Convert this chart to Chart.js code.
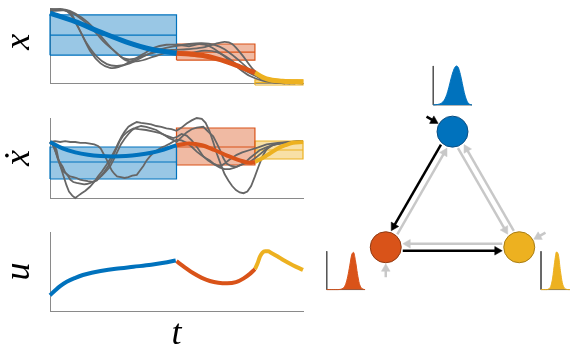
<!DOCTYPE html>
<html>
<head>
<meta charset="utf-8">
<script src="https://cdn.jsdelivr.net/npm/chart.js@4/dist/chart.umd.min.js"></script>
<style>
  html, body { margin: 0; padding: 0; background: #fff; width: 570px; height: 345px; overflow: hidden; position: relative; }
  canvas { position: absolute; }
</style>
</head>
<body>
<canvas id="panelX" width="310" height="92" style="left:0px;top:0px"></canvas>
<canvas id="panelV" width="310" height="105" style="left:0px;top:100px"></canvas>
<canvas id="panelU" width="310" height="144" style="left:0px;top:210px"></canvas>
<canvas id="network" width="267" height="267" style="left:319px;top:47px"></canvas>
<script>
// ---------- phase boundaries on the normalised time axis ----------
const phaseStart = [0, 0.5, 0.81];
const phaseEnd   = [0.5, 0.81, 1];

// ---------- position x: phase envelopes (low / mean / high) ----------
const xBoxLo  = [0.38, 0.315, -0.02];
const xBoxMid = [0.65, 0.42, 0.015];
const xBoxHi  = [0.92, 0.53, 0.05];

// position x: mean trajectory per phase
const xMeanA = [[0,0.945],[0.1,0.83],[0.2,0.69],[0.3,0.56],[0.4,0.46],[0.5,0.405]];
const xMeanB = [[0.5,0.405],[0.55,0.395],[0.605,0.375],[0.65,0.34],[0.7,0.29],[0.75,0.225],[0.81,0.145]];
const xMeanC = [[0.81,0.145],[0.84,0.085],[0.87,0.05],[0.92,0.03],[1,0.02]];

// position x: demonstrations
const xDemo1 = [[0,1.0],[0.05,0.99],[0.08,0.93],[0.11,0.76],[0.145,0.54],[0.185,0.36],[0.225,0.26],[0.265,0.235],[0.315,0.27],[0.38,0.38],[0.435,0.46],[0.49,0.5],[0.55,0.53],[0.6,0.54],[0.65,0.52],[0.69,0.46],[0.74,0.33],[0.79,0.18],[0.83,0.07],[0.88,0.02],[0.93,0.0]];
const xDemo2 = [[0,0.99],[0.04,1.0],[0.08,0.95],[0.12,0.7],[0.16,0.43],[0.2,0.27],[0.237,0.21],[0.27,0.22],[0.31,0.28],[0.36,0.36],[0.42,0.42],[0.48,0.45],[0.54,0.46],[0.6,0.48],[0.65,0.53],[0.69,0.56],[0.72,0.53],[0.76,0.38],[0.8,0.2],[0.84,0.08],[0.89,0.02],[0.95,0.0]];
const xDemo3 = [[0,0.98],[0.06,0.99],[0.1,0.94],[0.15,0.82],[0.2,0.64],[0.25,0.45],[0.29,0.34],[0.33,0.33],[0.37,0.4],[0.41,0.48],[0.46,0.52],[0.5,0.52],[0.55,0.5],[0.59,0.53],[0.63,0.5],[0.68,0.39],[0.74,0.22],[0.79,0.1],[0.84,0.04],[0.9,0.01],[0.97,0.0]];
const xDemo4 = [[0,0.97],[0.06,0.98],[0.11,0.9],[0.16,0.76],[0.21,0.57],[0.26,0.42],[0.3,0.31],[0.35,0.3],[0.41,0.36],[0.47,0.42],[0.52,0.4],[0.56,0.41],[0.61,0.44],[0.66,0.42],[0.71,0.33],[0.75,0.22],[0.8,0.12],[0.85,0.05],[0.9,0.02],[1,0.0]];

// ---------- velocity: phase envelopes ----------
const vBoxLo  = [0.2375, 0.4125, 0.4875];
const vBoxMid = [0.45, 0.6375, 0.6];
const vBoxHi  = [0.6375, 0.875, 0.7125];

const vMeanA = [[0,0.7],[0.05,0.62],[0.1,0.57],[0.15,0.54],[0.2,0.525],[0.25,0.52],[0.3,0.525],[0.35,0.54],[0.4,0.565],[0.45,0.605],[0.5,0.66]];
const vMeanB = [[0.5,0.66],[0.55,0.68],[0.6,0.66],[0.65,0.6],[0.7,0.53],[0.75,0.47],[0.79,0.44],[0.81,0.45]];
const vMeanC = [[0.81,0.45],[0.84,0.5],[0.87,0.56],[0.9,0.62],[0.93,0.66],[0.96,0.69],[1,0.7]];

const vDemo1 = [[0,0.70],[0.015,0.67],[0.026,0.60],[0.035,0.46],[0.045,0.36],[0.055,0.26],[0.065,0.16],[0.075,0.08],[0.088,0.03],[0.1,0.0],[0.112,0.03],[0.125,0.06],[0.14,0.09],[0.158,0.14],[0.172,0.19],[0.19,0.27],[0.205,0.33],[0.224,0.42],[0.24,0.5],[0.257,0.6],[0.27,0.69],[0.283,0.77],[0.295,0.83],[0.31,0.89],[0.325,0.92],[0.343,0.95],[0.36,0.94],[0.382,0.93],[0.4,0.92],[0.42,0.9],[0.44,0.89],[0.46,0.87],[0.48,0.86],[0.5,0.84],[0.52,0.88],[0.54,0.93],[0.56,0.97],[0.58,1.0],[0.6,0.99],[0.615,0.94],[0.63,0.84],[0.645,0.7],[0.66,0.55],[0.675,0.42],[0.69,0.3],[0.705,0.22],[0.72,0.15],[0.735,0.1],[0.75,0.07],[0.765,0.06],[0.78,0.08],[0.795,0.15],[0.81,0.27],[0.825,0.4],[0.84,0.52],[0.856,0.61],[0.875,0.66],[0.9,0.68],[0.93,0.69],[0.96,0.7],[1,0.71]];
const vDemo2 = [[0,0.70],[0.02,0.71],[0.04,0.70],[0.06,0.71],[0.08,0.70],[0.1,0.70],[0.12,0.69],[0.14,0.69],[0.158,0.68],[0.175,0.67],[0.19,0.65],[0.2,0.62],[0.212,0.55],[0.224,0.48],[0.235,0.4],[0.245,0.34],[0.255,0.3],[0.265,0.27],[0.28,0.26],[0.295,0.25],[0.31,0.26],[0.325,0.28],[0.343,0.29],[0.355,0.34],[0.369,0.4],[0.382,0.47],[0.395,0.52],[0.41,0.57],[0.425,0.6],[0.44,0.63],[0.455,0.65],[0.474,0.68],[0.49,0.71],[0.5,0.73],[0.52,0.72],[0.54,0.69],[0.56,0.64],[0.58,0.58],[0.6,0.53],[0.615,0.5],[0.632,0.47],[0.65,0.42],[0.672,0.38],[0.69,0.36],[0.71,0.36],[0.73,0.38],[0.75,0.41],[0.77,0.44],[0.79,0.5],[0.81,0.55],[0.83,0.6],[0.86,0.64],[0.89,0.67],[0.93,0.69],[0.97,0.7],[1,0.71]];
const vDemo3 = [[0,0.70],[0.015,0.64],[0.025,0.55],[0.033,0.47],[0.043,0.39],[0.053,0.33],[0.066,0.3],[0.079,0.27],[0.092,0.26],[0.105,0.25],[0.118,0.23],[0.132,0.22],[0.15,0.21],[0.171,0.2],[0.185,0.22],[0.2,0.27],[0.215,0.33],[0.23,0.4],[0.244,0.48],[0.26,0.6],[0.277,0.72],[0.29,0.78],[0.303,0.82],[0.318,0.85],[0.33,0.87],[0.35,0.86],[0.38,0.85],[0.41,0.83],[0.435,0.81],[0.46,0.78],[0.487,0.75],[0.5,0.76],[0.52,0.8],[0.54,0.78],[0.56,0.72],[0.58,0.64],[0.606,0.52],[0.625,0.47],[0.645,0.43],[0.66,0.41],[0.675,0.4],[0.69,0.43],[0.71,0.48],[0.738,0.54],[0.76,0.57],[0.79,0.6],[0.82,0.63],[0.856,0.67],[0.9,0.69],[0.95,0.7],[1,0.71]];
const vDemo4 = [[0,0.70],[0.012,0.66],[0.022,0.58],[0.03,0.5],[0.04,0.44],[0.05,0.39],[0.06,0.32],[0.07,0.28],[0.08,0.23],[0.092,0.2],[0.105,0.19],[0.12,0.18],[0.135,0.17],[0.145,0.175],[0.16,0.19],[0.175,0.21],[0.19,0.24],[0.205,0.28],[0.22,0.33],[0.237,0.39],[0.25,0.47],[0.265,0.57],[0.28,0.67],[0.295,0.74],[0.31,0.8],[0.325,0.85],[0.34,0.88],[0.36,0.9],[0.38,0.89],[0.4,0.87],[0.42,0.85],[0.445,0.8],[0.47,0.75],[0.49,0.72],[0.5,0.7],[0.52,0.76],[0.54,0.82],[0.56,0.86],[0.58,0.88],[0.606,0.89],[0.625,0.83],[0.645,0.77],[0.66,0.68],[0.672,0.6],[0.685,0.5],[0.698,0.43],[0.715,0.4],[0.738,0.39],[0.76,0.42],[0.79,0.45],[0.82,0.52],[0.85,0.6],[0.88,0.66],[0.92,0.69],[0.96,0.7],[1,0.71]];

// ---------- control input u ----------
const uPhaseA = [[0,0.2],[0.02,0.26],[0.04,0.315],[0.066,0.37],[0.1,0.42],[0.13,0.456],[0.165,0.485],[0.2,0.506],[0.26,0.535],[0.33,0.56],[0.4,0.585],[0.45,0.61],[0.497,0.64]];
const uPhaseB = [[0.5,0.63],[0.53,0.56],[0.567,0.477],[0.6,0.42],[0.632,0.38],[0.665,0.357],[0.7,0.35],[0.735,0.365],[0.764,0.41],[0.79,0.47],[0.81,0.53]];
const uPhaseC = [[0.81,0.53],[0.82,0.6],[0.83,0.69],[0.84,0.74],[0.85,0.755],[0.862,0.755],[0.875,0.735],[0.9,0.69],[0.922,0.645],[0.96,0.58],[1.0,0.52]];

// ---------- phase graph ----------
const nodeX = [0, -0.5, 0.5];
const nodeY = [0.866, 0, 0];
const edgeFrom   = [0, 1, 1, 2, 0, 2];
const edgeTo     = [1, 0, 2, 1, 2, 0];
const edgeActive = [1, 0, 1, 0, 0, 0];
const entryNode   = [0, 2, 1];
const entryAngle  = [150, 29, 270];
const entryActive = [1, 0, 0];

// duration densities sampled across each inset
const densityA = [0,0.005,0.01,0.02,0.04,0.08,0.15,0.27,0.44,0.64,0.82,0.95,1.0,0.95,0.78,0.55,0.32,0.15,0.05,0.01,0];
const densityB = [0,0,0,0,0,0,0,0.005,0.02,0.06,0.16,0.35,0.62,0.9,0.97,0.75,0.42,0.16,0.05,0.01,0];
const densityC = [0,0,0,0,0.02,0.08,0.3,0.7,0.98,0.9,0.5,0.18,0.05,0.01,0,0,0,0,0,0,0];

// ---------- styling ----------
const PHASE_COLORS = ['#0072BD', '#D95319', '#EDB120'];
const PHASE_FILLS  = ['rgba(0,114,189,0.4)', 'rgba(217,83,25,0.4)', 'rgba(237,177,32,0.4)'];
const NODE_EDGES   = ['#0b4d80', '#8f3a12', '#a87d14'];
const DEMO_COLOR = '#666666';
const AXIS_COLOR = '#8a8a8a';
const LABEL_FONT = { family: "'Liberation Serif', 'DejaVu Serif', serif", style: 'italic', size: 36, lineHeight: 1 };

const pts = a => a.map(([x, y]) => ({ x, y }));

function envelope(i, lo, mid, hi) {
  const t0 = phaseStart[i], t1 = phaseEnd[i];
  return [
    { data: [{x:t0,y:lo[i]},{x:t1,y:lo[i]},{x:t1,y:hi[i]},{x:t0,y:hi[i]},{x:t0,y:lo[i]}],
      fill: 'shape', backgroundColor: PHASE_FILLS[i], borderColor: PHASE_COLORS[i],
      borderWidth: 1.2, tension: 0, order: 3 },
    { data: [{x:t0,y:mid[i]},{x:t1,y:mid[i]}], fill: false,
      borderColor: PHASE_COLORS[i], borderWidth: 1.2, tension: 0, order: 3 }
  ];
}
function demo(a, tension) {
  return { data: pts(a), borderColor: DEMO_COLOR, borderWidth: 1.8, fill: false, tension, order: 2 };
}
function mean(a, i, w) {
  return { data: pts(a), borderColor: PHASE_COLORS[i], borderWidth: w, fill: false, tension: 0.4,
           cubicInterpolationMode: 'monotone', borderCapStyle: 'butt', order: 1 };
}

function panel(id, cfg) {
  const datasets = cfg.datasets.map(d => Object.assign({ pointRadius: 0, clip: false }, d));
  return new Chart(document.getElementById(id), {
    type: 'line',
    data: { datasets },
    options: {
      responsive: false, animation: false, events: [],
      layout: { autoPadding: false, padding: { top: cfg.padTop, right: 7, left: 0, bottom: 0 } },
      plugins: { legend: { display: false }, tooltip: { enabled: false } },
      scales: {
        x: {
          type: 'linear', min: 0, max: 1,
          grid: { display: false }, ticks: { display: false },
          border: { display: true, color: AXIS_COLOR, width: 1 },
          title: cfg.xTitle
            ? { display: true, text: cfg.xTitle, font: LABEL_FONT, color: '#000', padding: { top: 0, bottom: 1 } }
            : { display: false },
          afterFit: s => { s.height = cfg.xHeight; }
        },
        y: {
          type: 'linear', min: 0, max: 1,
          grid: { display: false }, ticks: { display: false },
          border: { display: true, color: AXIS_COLOR, width: 1 },
          title: { display: true, text: cfg.yTitle, font: LABEL_FONT, color: '#000', padding: { top: 2, bottom: 0 } },
          afterFit: s => { s.width = 50; }
        }
      }
    }
  });
}

panel('panelX', {
  padTop: 9, xHeight: 8.5, yTitle: ' x',
  datasets: [
    mean(xMeanA, 0, 5), mean(xMeanB, 1, 5), mean(xMeanC, 2, 5),
    demo(xDemo1, 0.3), demo(xDemo2, 0.3), demo(xDemo3, 0.3), demo(xDemo4, 0.3),
    ...envelope(0, xBoxLo, xBoxMid, xBoxHi), ...envelope(1, xBoxLo, xBoxMid, xBoxHi), ...envelope(2, xBoxLo, xBoxMid, xBoxHi)
  ]
});

panel('panelV', {
  padTop: 18, xHeight: 7, yTitle: 'ẋ',
  datasets: [
    mean(vMeanA, 0, 4), mean(vMeanB, 1, 4), mean(vMeanC, 2, 4),
    demo(vDemo1, 0), demo(vDemo2, 0), demo(vDemo3, 0), demo(vDemo4, 0),
    ...envelope(0, vBoxLo, vBoxMid, vBoxHi), ...envelope(1, vBoxLo, vBoxMid, vBoxHi), ...envelope(2, vBoxLo, vBoxMid, vBoxHi)
  ]
});

panel('panelU', {
  padTop: 22, xHeight: 43, yTitle: 'u', xTitle: 't',
  datasets: [ mean(uPhaseA, 0, 4), mean(uPhaseB, 1, 4), mean(uPhaseC, 2, 4) ]
});

// ---------- phase graph with transition arrows and duration insets ----------
const UNIT_PX = 133.5;               // pixels per graph unit
const px = v => v / UNIT_PX;
const NODE_R = 15.5, GAP = 17, SIDE = 3.5, HEAD = 5;
const GRAY = '#c8c8c8';

// inset frames relative to each node: [dx, dy, width, height] in graph units
const insetFrame = [[-0.144, 0.2, 0.29, 0.292], [-0.442, -0.317, 0.287, 0.287], [0.163, -0.317, 0.29, 0.287]];
const densities = [densityA, densityB, densityC];

const shafts = [], heads = [], headRot = [], headCol = [];
function arrow(sx, sy, tx, ty, color) {
  const L = Math.hypot(tx - sx, ty - sy), dx = (tx - sx) / L, dy = (ty - sy) / L;
  const cx = tx - dx * px(HEAD), cy = ty - dy * px(HEAD);
  shafts.push({ data: [{x:sx,y:sy},{x:cx,y:cy}], showLine: true, borderColor: color, borderWidth: 2.5,
                borderCapStyle: 'butt', pointRadius: 0, fill: false, tension: 0 });
  heads.push({ x: cx, y: cy });
  headRot.push(Math.atan2(dx, dy) * 180 / Math.PI);
  headCol.push(color);
}
edgeFrom.forEach((a, k) => {
  const b = edgeTo[k];
  const L = Math.hypot(nodeX[b] - nodeX[a], nodeY[b] - nodeY[a]);
  const dx = (nodeX[b] - nodeX[a]) / L, dy = (nodeY[b] - nodeY[a]) / L;
  const ox = dy * px(SIDE), oy = -dx * px(SIDE);   // keep to the right of travel
  arrow(nodeX[a] + dx * px(GAP) + ox, nodeY[a] + dy * px(GAP) + oy,
        nodeX[b] - dx * px(GAP) + ox, nodeY[b] - dy * px(GAP) + oy,
        edgeActive[k] ? '#000' : GRAY);
});
entryNode.forEach((n, k) => {
  const a = entryAngle[k] * Math.PI / 180, ux = Math.cos(a), uy = Math.sin(a);
  arrow(nodeX[n] + ux * px(30), nodeY[n] + uy * px(30),
        nodeX[n] + ux * px(16.5), nodeY[n] + uy * px(16.5),
        entryActive[k] ? '#000' : GRAY);
});

const insets = [];
densities.forEach((d, n) => {
  const [fx, fy, fw, fh] = insetFrame[n];
  const x0 = nodeX[n] + fx, y0 = nodeY[n] + fy;
  insets.push({ data: d.map((v, i) => ({ x: x0 + fw * i / (d.length - 1), y: y0 + fh * v })),
                showLine: true, fill: { value: y0 }, backgroundColor: PHASE_COLORS[n],
                borderColor: PHASE_COLORS[n], borderWidth: 1, pointRadius: 0,
                cubicInterpolationMode: 'monotone' });
  insets.push({ data: [{x:x0,y:y0+fh},{x:x0,y:y0},{x:x0+fw,y:y0}], showLine: true, fill: false,
                borderColor: '#555', borderWidth: 1, pointRadius: 0, tension: 0 });
});

new Chart(document.getElementById('network'), {
  type: 'line',
  data: {
    datasets: [
      { data: nodeX.map((x, i) => ({ x, y: nodeY[i] })), showLine: false, pointRadius: NODE_R,
        pointBackgroundColor: PHASE_COLORS, pointBorderColor: NODE_EDGES, pointBorderWidth: 1 },
      { data: heads, showLine: false, pointStyle: 'triangle', pointRadius: HEAD,
        pointRotation: headRot, pointBackgroundColor: headCol, pointBorderColor: headCol, pointBorderWidth: 0.5 },
      ...shafts,
      ...insets
    ].map(d => Object.assign({ clip: false }, d))
  },
  options: {
    responsive: false, animation: false, events: [],
    layout: { autoPadding: false, padding: 0 },
    plugins: { legend: { display: false }, tooltip: { enabled: false } },
    scales: {
      x: { type: 'linear', min: -1, max: 1, display: false },
      y: { type: 'linear', min: -0.5, max: 1.5, display: false }
    }
  }
});
</script>
</body>
</html>
